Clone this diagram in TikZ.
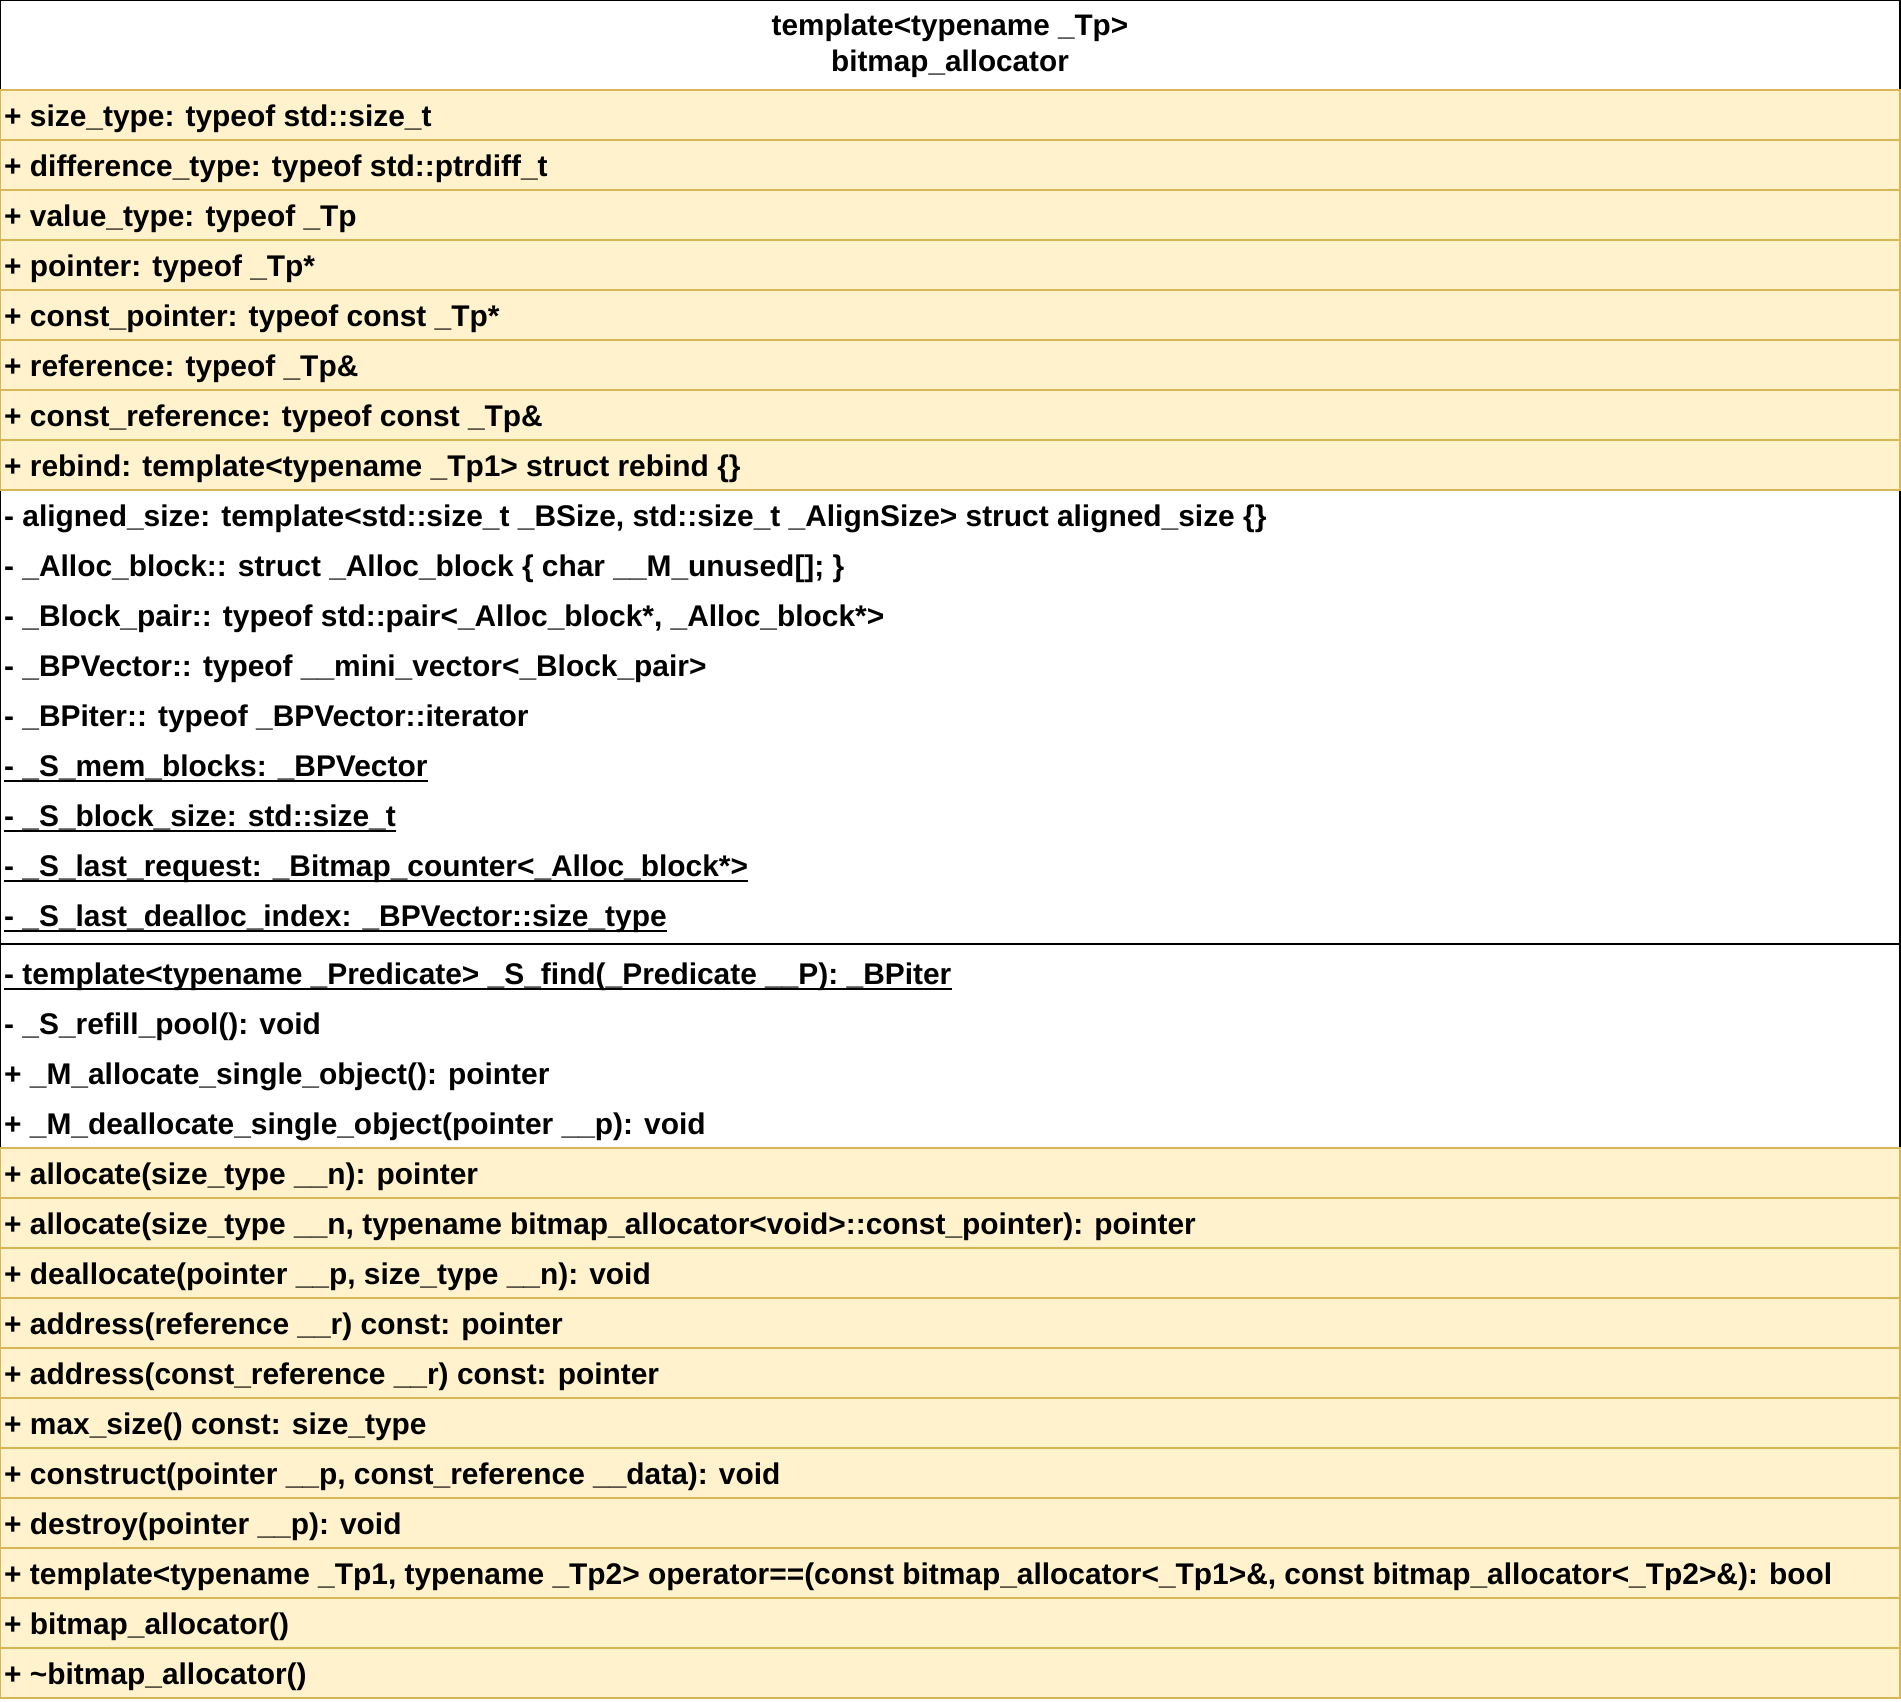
\documentclass[tikz,border=0pt]{standalone}
\usepackage{fontspec}
\setmainfont{Liberation Sans}
\newfontfamily\rowfont{Liberation Sans}
\newfontfamily\headfont{Liberation Sans}

\definecolor{yfill}{HTML}{FFF2CC}
\definecolor{ystroke}{HTML}{D6B656}

\tikzset{
  yrow/.style={fill=yfill, draw=ystroke, line width=1.5pt},
  blk/.style={draw=black, line width=2pt},
  txt/.style={anchor=base west, inner sep=0pt, font={\rowfont\bfseries\fontsize{29.9}{35}\selectfont}},
  headtxt/.style={anchor=base, inner sep=0pt, font={\headfont\bfseries\fontsize{29.7}{35}\selectfont}},
  uline/.style={draw=black, line width=2pt}
}

% a member row: name, top edge, text
\newcommand\memrow[3]{\node[txt] (#1) at (4,#2+36) {#3};}
% a static member row, underlined
\newcommand\statrow[3]{\node[txt] (#1) at (4,#2+36) {#3};
  \draw[uline] ([yshift=-5pt]#1.base west) -- ([yshift=-5pt]#1.base east);}
% a shaded row box
\newcommand\ybox[1]{\draw[yrow] (0,#1) rectangle (1900,#1+50);}

\begin{document}
\begin{tikzpicture}[x=1pt,y=-1pt]
\useasboundingbox (0,0) rectangle (1901,1702);
\fill[white] (0,0) rectangle (1901,1702);

% class frame
\draw[blk] (0,0) rectangle (1900,1698);

% header
\node[headtxt] (tpl) at (950,36) {template<typename \_Tp>};
\node[headtxt] (cls) at (950,72) {bitmap\_allocator};

% public typedefs
\foreach \t in {90,140,...,440} {\ybox{\t}}
\memrow{a1}{90}{+ size\_type: typeof std::size\_t}
\memrow{a2}{140}{+ difference\_type: typeof std::ptrdiff\_t}
\memrow{a3}{190}{+ value\_type: typeof \_Tp}
\memrow{a4}{240}{+ pointer: typeof \_Tp*}
\memrow{a5}{290}{+ const\_pointer: typeof const \_Tp*}
\memrow{a6}{340}{+ reference: typeof \_Tp\&}
\memrow{a7}{390}{+ const\_reference: typeof const \_Tp\&}
\memrow{a8}{440}{+ rebind: template<typename \_Tp1> struct rebind \{\}}

% private types and static data
\memrow{b1}{490}{- aligned\_size: template<std::size\_t \_BSize, std::size\_t \_AlignSize> struct aligned\_size \{\}}
\memrow{b2}{540}{- \_Alloc\_block:: struct \_Alloc\_block \{ char \_\_M\_unused[]; \}}
\memrow{b3}{590}{- \_Block\_pair:: typeof std::pair<\_Alloc\_block*, \_Alloc\_block*>}
\memrow{b4}{640}{- \_BPVector:: typeof \_\_mini\_vector<\_Block\_pair>}
\memrow{b5}{690}{- \_BPiter:: typeof \_BPVector::iterator}
\statrow{b6}{740}{- \_S\_mem\_blocks: \_BPVector}
\statrow{b7}{790}{- \_S\_block\_size: std::size\_t}
\statrow{b8}{840}{- \_S\_last\_request: \_Bitmap\_counter<\_Alloc\_block*>}
\statrow{b9}{890}{- \_S\_last\_dealloc\_index: \_BPVector::size\_type}

% compartment separator
\coordinate (sepL) at (0,944);
\coordinate (sepR) at (1900,944);
\draw[blk] (sepL) -- (sepR);

% internal operations
\statrow{c1}{948}{- template<typename \_Predicate> \_S\_find(\_Predicate \_\_P): \_BPiter}
\memrow{c2}{998}{- \_S\_refill\_pool(): void}
\memrow{c3}{1048}{+ \_M\_allocate\_single\_object(): pointer}
\memrow{c4}{1098}{+ \_M\_deallocate\_single\_object(pointer \_\_p): void}

% public operations
\foreach \t in {1148,1198,...,1648} {\ybox{\t}}
\memrow{d1}{1148}{+ allocate(size\_type \_\_n): pointer}
\memrow{d2}{1198}{+ allocate(size\_type \_\_n, typename bitmap\_allocator<void>::const\_pointer): pointer}
\memrow{d3}{1248}{+ deallocate(pointer \_\_p, size\_type \_\_n): void}
\memrow{d4}{1298}{+ address(reference \_\_r) const: pointer}
\memrow{d5}{1348}{+ address(const\_reference \_\_r) const: pointer}
\memrow{d6}{1398}{+ max\_size() const: size\_type}
\memrow{d7}{1448}{+ construct(pointer \_\_p, const\_reference \_\_data): void}
\memrow{d8}{1498}{+ destroy(pointer \_\_p): void}
\memrow{d9}{1548}{+ template<typename \_Tp1, typename \_Tp2> operator==(const bitmap\_allocator<\_Tp1>\&, const bitmap\_allocator<\_Tp2>\&): bool}
\memrow{d10}{1598}{+ bitmap\_allocator()}
\memrow{d11}{1648}{+ \textasciitilde bitmap\_allocator()}
\end{tikzpicture}
\end{document}
